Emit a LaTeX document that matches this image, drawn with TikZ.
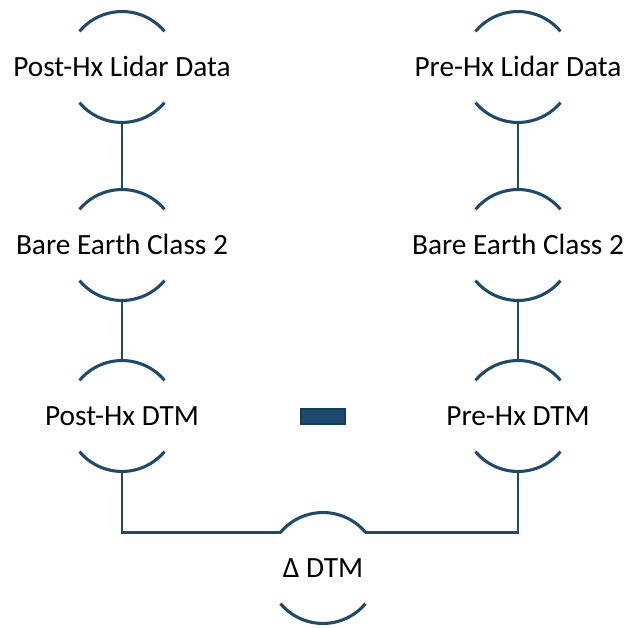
\documentclass[tikz,border=0pt]{standalone}
\usepackage{fontspec}
\setmainfont{Carlito}
\usetikzlibrary{calc}
\definecolor{navy}{HTML}{1D4A6D}
\definecolor{navydark}{HTML}{153D5C}
\tikzset{
  arcline/.style={draw=navy, line width=2.3pt},
  conn/.style={draw=navy, line width=1.9pt},
  lbl/.style={anchor=base, inner sep=0pt, font=\fontsize{22}{26}\selectfont, yshift=-7pt},
  minusbox/.style={fill=navy, draw=navydark, line width=1pt}
}
\newcommand{\ringnode}[3]{%
  \coordinate (#1) at (#2);
  \node[lbl] (#1-t) at (#1) {#3};
  \coordinate (#1-n) at ($(#1)+(90:41.6pt)$);
  \coordinate (#1-s) at ($(#1)+(270:41.6pt)$);
  \coordinate (#1-nw) at ($(#1)+(140:41.6pt)$);
  \coordinate (#1-ne) at ($(#1)+(40:41.6pt)$);
  \draw[arcline] ($(#1)+(40:41.6pt)$) arc[start angle=40, end angle=140, radius=41.6pt];
  \draw[arcline] ($(#1)+(220:41.6pt)$) arc[start angle=220, end angle=320, radius=41.6pt];
}
\begin{document}
\begin{tikzpicture}[x=0.75pt, y=0.75pt]
\useasboundingbox (0,0) rectangle (625,628);
\ringnode{A}{122,561}{Post-Hx Lidar Data}
\ringnode{B}{518,561}{Pre-Hx Lidar Data}
\ringnode{C}{122,383}{Bare Earth Class 2}
\ringnode{D}{518,383}{Bare Earth Class 2}
\ringnode{E}{122,212}{Post-Hx DTM}
\ringnode{F}{518,212}{Pre-Hx DTM}
\ringnode{G}{323,60}{Δ DTM}
\draw[conn] (A-s) -- (C-n);
\draw[conn] (B-s) -- (D-n);
\draw[conn] (C-s) -- (E-n);
\draw[conn] (D-s) -- (F-n);
\draw[conn] (E-s) |- (G-nw);
\draw[conn] (F-s) |- (G-ne);
\node[minusbox, minimum width=44*0.75pt, minimum height=15*0.75pt, inner sep=0pt] (minus) at (323,211.5) {};
\end{tikzpicture}
\end{document}
